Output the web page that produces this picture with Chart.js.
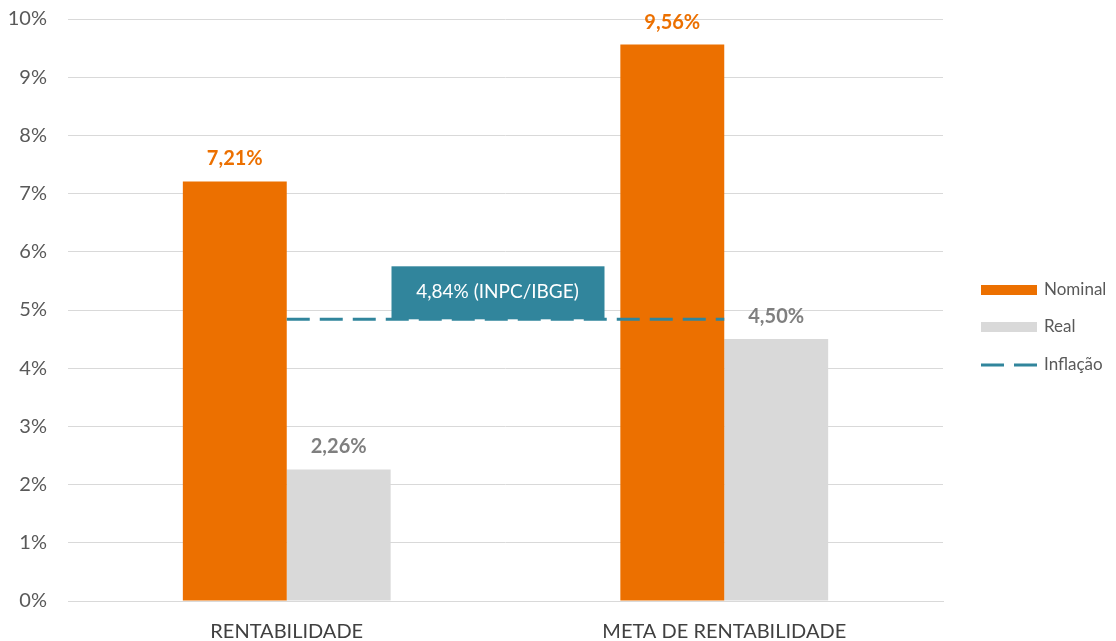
<!DOCTYPE html>
<html>
<head>
<meta charset="utf-8">
<script src="https://cdn.jsdelivr.net/npm/chart.js@4/dist/chart.umd.min.js"></script>
<style>
  html, body { margin: 0; padding: 0; background: #fff; }
  #wrap { width: 1116px; height: 641px; }
</style>
</head>
<body>
<div id="wrap"><canvas id="myChart"></canvas></div>
<script>
const categories = ["RENTABILIDADE", "META DE RENTABILIDADE"];
const nominalValues = [7.21, 9.56];
const realValues = [2.26, 4.50];
const inflationValues = [4.84, 4.84];
const inflationLabel = "4,84% (INPC/IBGE)";
const yTicks = [0, 1, 2, 3, 4, 5, 6, 7, 8, 9, 10];

const orange = "#ec7000";
const grey = "#d9d9d9";
const teal = "#31859c";

function pct(v) {
  return v.toFixed(2).replace(".", ",") + "%";
}

// value labels above the bars
const barLabels = {
  id: "barLabels",
  afterDatasetsDraw(chart) {
    const ctx = chart.ctx;
    ctx.save();
    ctx.font = "bold 20px Lato";
    ctx.textAlign = "center";
    ctx.textBaseline = "alphabetic";
    chart.data.datasets.forEach((ds, i) => {
      if (ds.type !== "bar") return;
      const meta = chart.getDatasetMeta(i);
      ctx.fillStyle = ds.labelColor;
      meta.data.forEach((bar, j) => {
        ctx.fillText(pct(ds.data[j]), bar.x, bar.y - 16);
      });
    });
    ctx.restore();
  }
};

// teal box with the inflation text, sitting on the line
const inflationBox = {
  id: "inflationBox",
  afterDatasetsDraw(chart) {
    const ctx = chart.ctx;
    const pts = chart.getDatasetMeta(2).data;
    const cx = (pts[0].x + pts[1].x) / 2 - 8;
    const yb = pts[0].y;
    ctx.save();
    ctx.fillStyle = teal;
    ctx.fillRect(cx - 106, yb - 53, 213, 53);
    ctx.fillStyle = "#ffffff";
    ctx.font = "19px Lato";
    ctx.textAlign = "center";
    ctx.textBaseline = "middle";
    ctx.fillText(inflationLabel, cx, yb - 27);
    ctx.restore();
  }
};

// legend on the right
const sideLegend = {
  id: "sideLegend",
  afterDraw(chart) {
    const ctx = chart.ctx;
    const x = 981, w = 56;
    ctx.save();
    ctx.font = "17px Lato";
    ctx.textBaseline = "middle";
    ctx.fillStyle = orange;
    ctx.fillRect(x, 285, w, 10);
    ctx.fillStyle = grey;
    ctx.fillRect(x, 322, w, 10);
    ctx.strokeStyle = teal;
    ctx.lineWidth = 3;
    ctx.setLineDash([23, 10]);
    ctx.beginPath();
    ctx.moveTo(x, 365);
    ctx.lineTo(x + w, 365);
    ctx.stroke();
    ctx.fillStyle = "#595959";
    ctx.fillText("Nominal", 1044, 290);
    ctx.fillText("Real", 1044, 327);
    ctx.fillText("Inflação", 1044, 365);
    ctx.restore();
  }
};

new Chart("myChart", {
  data: {
    labels: categories,
    datasets: [{
      type: "bar",
      label: "Nominal",
      data: nominalValues,
      backgroundColor: orange,
      labelColor: orange,
      order: 1
    }, {
      type: "bar",
      label: "Real",
      data: realValues,
      backgroundColor: grey,
      labelColor: "#7f7f7f",
      order: 1
    }, {
      type: "line",
      label: "Inflação",
      data: inflationValues,
      borderColor: teal,
      borderWidth: 3,
      borderDash: [23, 10],
      pointRadius: 0,
      fill: false,
      order: 0
    }]
  },
  options: {
    responsive: true,
    maintainAspectRatio: false,
    animation: false,
    layout: { padding: { top: 19, right: 173, bottom: 0, left: 0 } },
    datasets: {
      bar: { categoryPercentage: 0.475, barPercentage: 1 }
    },
    plugins: {
      legend: { display: false },
      tooltip: { enabled: false }
    },
    scales: {
      x: {
        grid: { display: false },
        border: { color: grey },
        ticks: { color: "#404040", font: { family: "Lato", size: 20 }, padding: 11 },
        afterFit(scale) { scale.height = 40; }
      },
      y: {
        min: 0,
        max: 10,
        afterBuildTicks(scale) { scale.ticks = yTicks.map(v => ({ value: v })); },
        grid: { color: grey, drawTicks: false },
        border: { display: false },
        ticks: {
          color: "#595959",
          font: { family: "Lato", size: 20 },
          padding: 21,
          callback: v => v + "%"
        },
        afterFit(scale) {
          scale.width = 68;
          scale.paddingTop = 0;
          scale.paddingBottom = 0;
        }
      }
    }
  },
  plugins: [barLabels, inflationBox, sideLegend]
});
</script>
</body>
</html>
